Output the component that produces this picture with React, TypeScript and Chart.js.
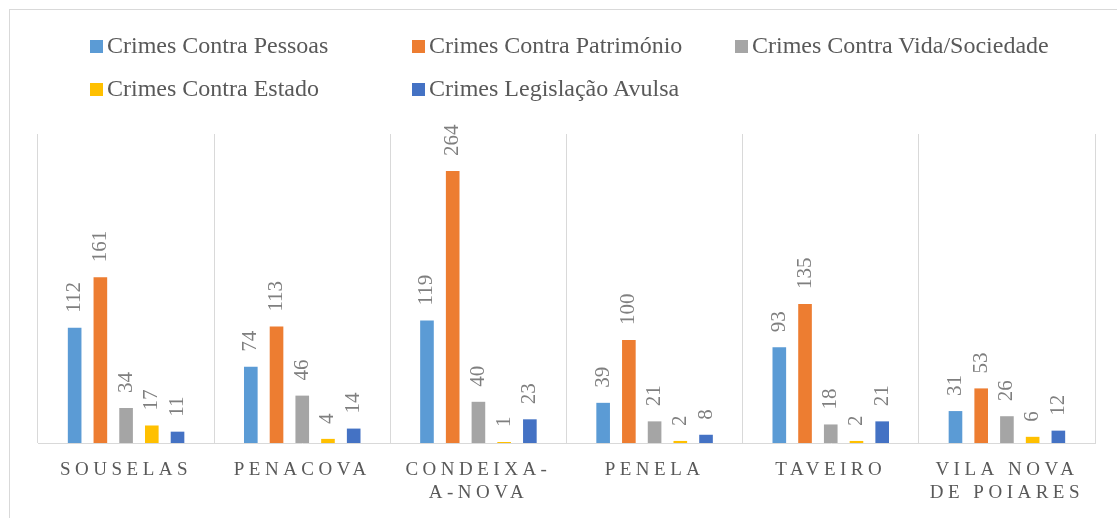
import React, { useEffect, useRef } from "react";
import { Chart, registerables } from "chart.js";

Chart.register(...registerables);

const categories: string[][] = [
  ["SOUSELAS"],
  ["PENACOVA"],
  ["CONDEIXA-", "A-NOVA"],
  ["PENELA"],
  ["TAVEIRO"],
  ["VILA NOVA", "DE POIARES"],
];

const seriesNames = [
  "Crimes Contra Pessoas",
  "Crimes Contra Património",
  "Crimes Contra Vida/Sociedade",
  "Crimes Contra Estado",
  "Crimes Legislação Avulsa",
];

const crimesPessoas = [112, 74, 119, 39, 93, 31];
const crimesPatrimonio = [161, 113, 264, 100, 135, 53];
const crimesVidaSociedade = [34, 46, 40, 21, 18, 26];
const crimesEstado = [17, 4, 1, 2, 2, 6];
const crimesLegislacaoAvulsa = [11, 14, 23, 8, 21, 12];

const seriesColors = ["#5B9BD5", "#ED7D31", "#A5A5A5", "#FFC000", "#4472C4"];

const seriesValues = [
  crimesPessoas,
  crimesPatrimonio,
  crimesVidaSociedade,
  crimesEstado,
  crimesLegislacaoAvulsa,
];

// legend grid layout (columns / rows)
const legendCols = [90, 412, 735];
const legendRowsTop = [33, 76];

const FONT = '"Liberation Serif", "Times New Roman", serif';

const letterSpacingPlugin = {
  id: "axisLetterSpacing",
  beforeDraw(chart: any) {
    (chart.ctx as any).letterSpacing = "4.5px";
  },
  beforeDatasetsDraw(chart: any) {
    (chart.ctx as any).letterSpacing = "0px";
  },
};

const valueLabelPlugin = {
  id: "valueLabels",
  afterDatasetsDraw(chart: any) {
    const ctx = chart.ctx as CanvasRenderingContext2D;
    ctx.save();
    (ctx as any).letterSpacing = "0px";
    ctx.font = `21px ${FONT}`;
    ctx.fillStyle = "#7f7f7f";
    ctx.textAlign = "left";
    ctx.textBaseline = "middle";
    chart.data.datasets.forEach((ds: any, i: number) => {
      const meta = chart.getDatasetMeta(i);
      meta.data.forEach((bar: any, j: number) => {
        const { x, y } = bar.getProps(["x", "y"], true);
        ctx.save();
        ctx.translate(x, y - 15);
        ctx.rotate(-Math.PI / 2);
        ctx.fillText(String(ds.data[j]), 0, 0);
        ctx.restore();
      });
    });
    ctx.restore();
  },
};

export default function App() {
  const canvasRef = useRef<HTMLCanvasElement | null>(null);

  useEffect(() => {
    if (!canvasRef.current) return;
    const chart = new Chart(canvasRef.current, {
      type: "bar",
      data: {
        labels: categories as any,
        datasets: seriesNames.map((name, i) => ({
          label: name,
          data: seriesValues[i],
          backgroundColor: seriesColors[i],
          borderWidth: 0,
          categoryPercentage: 0.73,
          barPercentage: 0.53,
        })),
      },
      options: {
        responsive: false,
        animation: false,
        layout: { padding: { left: 38, right: 22, top: 134, bottom: 0 } },
        plugins: {
          legend: { display: false },
          tooltip: { enabled: false },
          title: { display: false },
        },
        scales: {
          x: {
            grid: {
              offset: true,
              color: "#d9d9d9",
              lineWidth: 1,
              drawTicks: false,
            },
            border: { display: true, color: "#d9d9d9", width: 1 },
            ticks: {
              color: "#595959",
              font: { family: FONT, size: 19, lineHeight: 1.2 },
              padding: 16,
              maxRotation: 0,
              minRotation: 0,
              autoSkip: false,
            },
            afterFit(scale: any) {
              scale.height = 75;
            },
          },
          y: {
            display: false,
            min: 0,
            max: 300,
            afterFit(scale: any) {
              scale.width = 0;
            },
          },
        },
      },
      plugins: [letterSpacingPlugin, valueLabelPlugin],
    });
    return () => chart.destroy();
  }, []);

  return (
    <div
      style={{
        position: "fixed",
        left: 0,
        top: 0,
        width: 1117,
        height: 518,
        overflow: "hidden",
        background: "#ffffff",
      }}
    >
      <div
        style={{
          position: "absolute",
          left: 9,
          top: 9,
          width: 2000,
          height: 2000,
          border: "1px solid #d9d9d9",
          boxSizing: "border-box",
        }}
      />
      <canvas
        ref={canvasRef}
        width={1117}
        height={518}
        style={{ position: "absolute", left: 0, top: 0, width: 1117, height: 518 }}
      />
      {seriesNames.map((name, i) => {
        const col = i % 3;
        const row = Math.floor(i / 3);
        const left = legendCols[col];
        const top = legendRowsTop[row];
        return (
          <div
            key={name}
            style={{ position: "absolute", left, top, height: 24, whiteSpace: "nowrap" }}
          >
            <span
              style={{
                position: "absolute",
                left: 0,
                top: 7,
                width: 13,
                height: 13,
                background: seriesColors[i],
              }}
            />
            <span
              style={{
                position: "absolute",
                left: 17,
                top: 0,
                font: `24px ${FONT}`,
                lineHeight: "24px",
                color: "#595959",
              }}
            >
              {name}
            </span>
          </div>
        );
      })}
    </div>
  );
}
